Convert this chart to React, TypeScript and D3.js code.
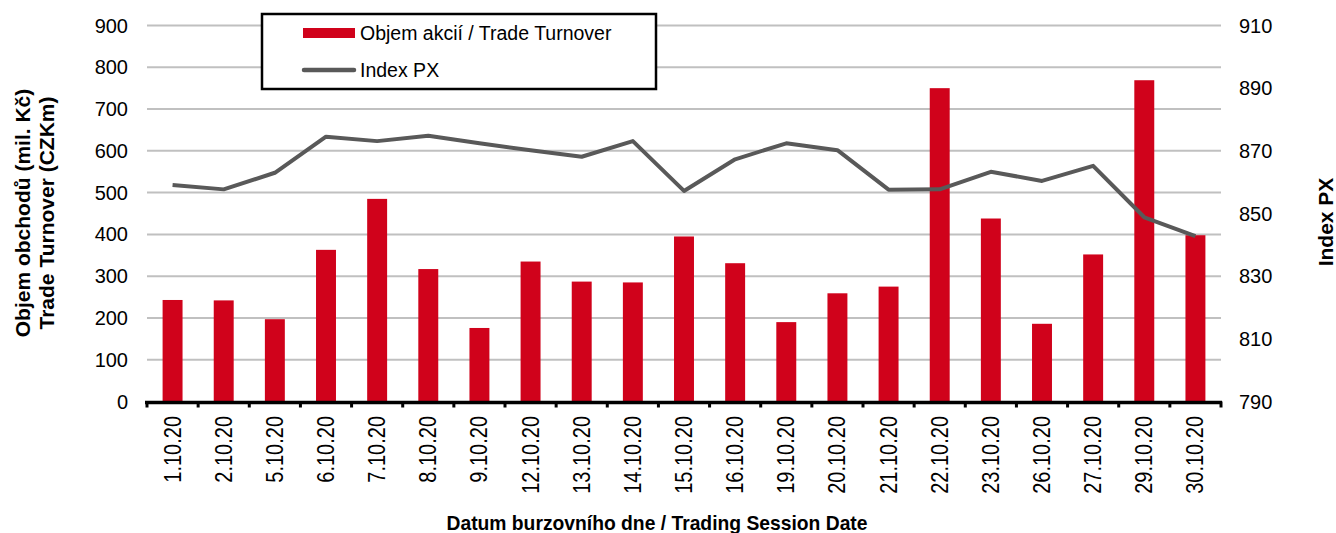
import React, { useEffect, useRef } from "react";
import * as d3 from "d3";

const dates = [
  "1.10.20", "2.10.20", "5.10.20", "6.10.20", "7.10.20", "8.10.20", "9.10.20",
  "12.10.20", "13.10.20", "14.10.20", "15.10.20", "16.10.20", "19.10.20", "20.10.20",
  "21.10.20", "22.10.20", "23.10.20", "26.10.20", "27.10.20", "29.10.20", "30.10.20",
];
const turnover = [
  243, 242, 197, 363, 485, 317, 176, 335, 287, 285, 395, 331, 190, 259, 275, 750,
  438, 186, 352, 769, 398,
];
const indexPX = [
  859.1, 857.7, 863.0, 874.5, 873.1, 874.8, 872.4, 870.2, 868.1, 873.1, 857.2,
  867.3, 872.4, 870.2, 857.6, 857.7, 863.3, 860.4, 865.2, 848.8, 842.8,
];
const leftTicks = [0, 100, 200, 300, 400, 500, 600, 700, 800, 900];
const rightTicks = [790, 810, 830, 850, 870, 890, 910];

const RED = "#d0021b";
const GREY = "#595959";
const FONT = "'Liberation Sans', Arial, sans-serif";

const App: React.FC = () => {
  const svgRef = useRef<SVGSVGElement>(null);

  useEffect(() => {
    if (!svgRef.current) return;
    const svg = d3.select(svgRef.current);
    svg.selectAll("*").remove();

    const left = 147;
    const right = 1221;
    const top = 25.5;
    const bottom = 401.5;

    const x = d3.scaleBand().domain(dates).range([left, right]).padding(0);
    const yL = d3.scaleLinear().domain([0, 900]).range([bottom, top]);
    const yR = d3.scaleLinear().domain([790, 910]).range([bottom, top]);
    const cx = (d: string) => (x(d) || 0) + x.bandwidth() / 2;

    // Gridlines
    svg
      .append("g")
      .selectAll("line")
      .data(leftTicks.filter((t) => t > 0))
      .enter()
      .append("line")
      .attr("x1", left)
      .attr("x2", right)
      .attr("y1", (d) => yL(d))
      .attr("y2", (d) => yL(d))
      .attr("stroke", "#c0c0c0")
      .attr("stroke-width", 2);

    // Bars
    const barW = x.bandwidth() * 0.39;
    svg
      .append("g")
      .selectAll("rect")
      .data(dates)
      .enter()
      .append("rect")
      .attr("x", (d) => cx(d) - barW / 2)
      .attr("y", (d, i) => yL(turnover[i]))
      .attr("width", barW)
      .attr("height", (d, i) => bottom - yL(turnover[i]))
      .attr("fill", RED);

    // Index PX line
    const line = d3
      .line<number>()
      .x((d, i) => cx(dates[i]))
      .y((d) => yR(d));
    svg
      .append("path")
      .datum(indexPX)
      .attr("d", line)
      .attr("fill", "none")
      .attr("stroke", GREY)
      .attr("stroke-width", 4)
      .attr("stroke-linejoin", "round");

    // X axis line and ticks
    svg
      .append("line")
      .attr("x1", left - 2)
      .attr("x2", right + 1)
      .attr("y1", bottom + 1)
      .attr("y2", bottom + 1)
      .attr("stroke", "#000")
      .attr("stroke-width", 3.5);
    svg
      .append("g")
      .selectAll("line")
      .data(d3.range(dates.length + 1))
      .enter()
      .append("line")
      .attr("x1", (i) => left + i * x.step())
      .attr("x2", (i) => left + i * x.step())
      .attr("y1", bottom)
      .attr("y2", bottom + 6)
      .attr("stroke", "#000")
      .attr("stroke-width", 3);

    // Left tick labels
    svg
      .append("g")
      .selectAll("text")
      .data(leftTicks)
      .enter()
      .append("text")
      .attr("x", 128)
      .attr("y", (d) => yL(d))
      .attr("dy", "0.35em")
      .attr("text-anchor", "end")
      .style("font-family", FONT)
      .style("font-size", "20px")
      .text((d) => d);

    // Right tick labels
    svg
      .append("g")
      .selectAll("text")
      .data(rightTicks)
      .enter()
      .append("text")
      .attr("x", 1239)
      .attr("y", (d) => yR(d))
      .attr("dy", "0.35em")
      .attr("text-anchor", "start")
      .style("font-family", FONT)
      .style("font-size", "20px")
      .text((d) => d);

    // Date labels (glyphs a bit taller than wide in the original)
    svg
      .append("g")
      .selectAll("text")
      .data(dates)
      .enter()
      .append("text")
      .attr("transform", (d) => `translate(${cx(d)},416) rotate(-90) scale(1,1.15)`)
      .attr("dy", "0.35em")
      .attr("text-anchor", "end")
      .style("font-family", FONT)
      .style("font-size", "20px")
      .text((d) => d);

    // Axis titles
    svg
      .append("text")
      .attr("x", 657)
      .attr("y", 530)
      .attr("text-anchor", "middle")
      .style("font-family", FONT)
      .style("font-size", "19.3px")
      .style("font-weight", "bold")
      .text("Datum burzovního dne / Trading Session Date");

    const leftTitle = ["Objem obchodů (mil. Kč)", "Trade Turnover (CZKm)"];
    svg
      .append("g")
      .selectAll("text")
      .data(leftTitle)
      .enter()
      .append("text")
      .attr("transform", (d, i) => `translate(${23 + i * 24},213) rotate(-90)`)
      .attr("dy", "0.35em")
      .attr("text-anchor", "middle")
      .style("font-family", FONT)
      .style("font-size", "21px")
      .style("font-weight", "bold")
      .text((d) => d);

    svg
      .append("text")
      .attr("transform", "translate(1326,222) rotate(-90)")
      .attr("dy", "0.35em")
      .attr("text-anchor", "middle")
      .style("font-family", FONT)
      .style("font-size", "21px")
      .style("font-weight", "bold")
      .text("Index PX");

    // Legend
    const lg = svg.append("g");
    lg.append("rect")
      .attr("x", 262)
      .attr("y", 14)
      .attr("width", 394)
      .attr("height", 75)
      .attr("fill", "#fff")
      .attr("stroke", "#000")
      .attr("stroke-width", 2.5);
    lg.append("rect")
      .attr("x", 303)
      .attr("y", 28)
      .attr("width", 52)
      .attr("height", 10)
      .attr("fill", RED);
    lg.append("text")
      .attr("x", 360)
      .attr("y", 33)
      .attr("dy", "0.35em")
      .style("font-family", FONT)
      .style("font-size", "19.5px")
      .text("Objem akcií / Trade Turnover");
    lg.append("line")
      .attr("x1", 304)
      .attr("x2", 354)
      .attr("y1", 70)
      .attr("y2", 70)
      .attr("stroke", GREY)
      .attr("stroke-width", 4.5)
      .attr("stroke-linecap", "round");
    lg.append("text")
      .attr("x", 360)
      .attr("y", 70)
      .attr("dy", "0.35em")
      .style("font-family", FONT)
      .style("font-size", "19.5px")
      .text("Index PX");
  }, []);

  return (
    <svg
      ref={svgRef}
      width={1336}
      height={533}
      style={{ position: "absolute", left: 0, top: 0, background: "#fff" }}
    ></svg>
  );
};

export default App;
